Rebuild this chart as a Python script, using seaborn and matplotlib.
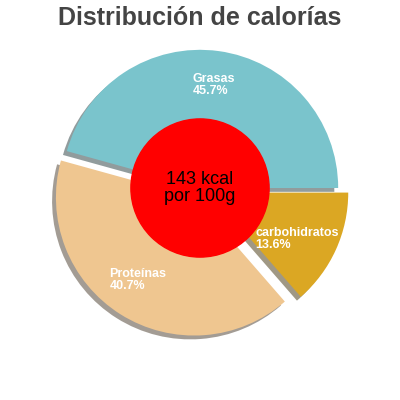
import matplotlib
matplotlib.use("Agg")
import matplotlib.pyplot as plt
import seaborn as sns
import numpy as np

sns.set_theme(style="white")
plt.rcParams['font.family'] = ['Liberation Sans', 'DejaVu Sans']

labels = ["Grasas", "Proteínas", "carbohidratos"]
values = [45.7, 40.7, 13.6]
colors = ["#7ac4cc", "#efc690", "#dba723"]
explode = [0.0, 0.08, 0.08]
label_shift = [(-0.15, 0.03), (-0.23, 0.01), (-0.33, -0.04)]

fig = plt.figure(figsize=(4, 4), dpi=100)
ax = fig.add_axes([0.12, 0.15, 0.76, 0.76])
wedges, _ = ax.pie(values, colors=colors, startangle=0, counterclock=True,
                   explode=explode, shadow=True,
                   wedgeprops=dict(linewidth=0))
for w, lab, v, (dx, dy) in zip(wedges, labels, values, label_shift):
    ang = np.deg2rad((w.theta1 + w.theta2) / 2)
    cx, cy = w.center
    r = 0.72
    x, y = cx + r * np.cos(ang), cy + r * np.sin(ang)
    ax.text(x + dx, y + dy, f"{lab}\n{v}%", color="white", fontsize=9,
            fontweight="bold", ha="left", va="center", linespacing=1.0,
            clip_on=False, zorder=7)
circle = plt.Circle((0, 0), 0.5, color="#ff0000", zorder=5)
ax.add_patch(circle)
ax.text(0, 0, "143 kcal\npor 100g", ha="center", va="center", fontsize=13,
        color="black", zorder=6, linespacing=1.0)
ax.set_aspect("equal")
ax.set_xlim(-1.1, 1.1)
ax.set_ylim(-1.1, 1.1)
fig.text(0.5, 0.955, "Distribución de calorías", ha="center", va="center",
         fontsize=18, fontweight="bold", color="#444444")
fig.savefig("out.png", dpi=100)
